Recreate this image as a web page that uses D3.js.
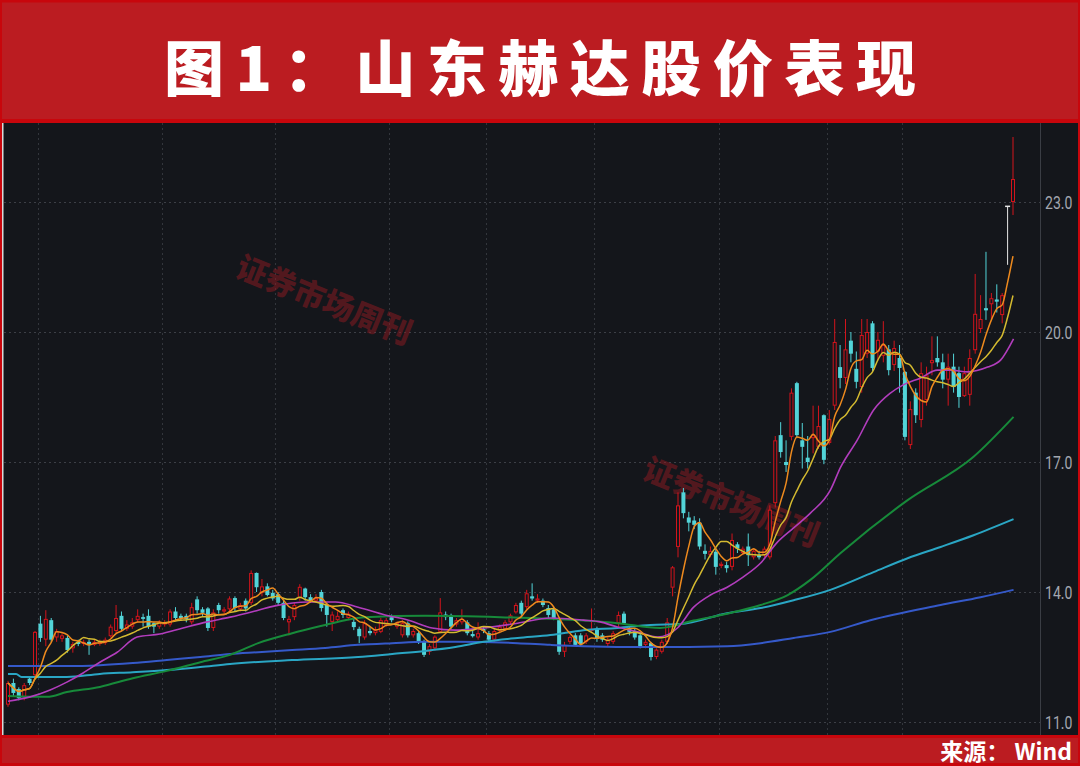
<!DOCTYPE html>
<html><head><meta charset="utf-8">
<script src="https://cdn.jsdelivr.net/npm/d3@7"></script>
<style>html,body{margin:0;padding:0;background:#14161b;overflow:hidden}svg{display:block}</style>
</head><body><svg id="c" width="1080" height="766"></svg>
<script>
// ---------------- data ----------------
const titleText = "图1：山东赫达股价表现";
const sourceText = "来源： Wind";
const watermarkText = "证券市场周刊";
const priceTicks = [11, 14, 17, 20, 23];
const monthStarts = [6, 29, 50, 71, 89, 109, 132, 152, 166];

const openP = [11.40,11.90,11.76,11.58,12.00,12.08,13.27,12.90,13.35,12.95,
12.92,12.94,12.70,12.85,12.80,12.85,12.78,12.80,12.82,12.98,
13.10,13.45,13.15,13.20,13.35,13.42,13.45,13.28,13.20,13.25,
13.25,13.55,13.45,13.45,13.30,13.83,13.60,13.62,13.17,13.70,
13.55,13.60,13.86,13.60,13.80,13.75,14.44,13.98,14.13,13.98,
13.95,13.75,13.30,13.42,13.86,14.08,13.88,13.80,14.00,13.70,
13.31,13.35,13.58,13.40,13.31,13.15,12.95,13.10,13.05,13.08,
13.25,13.42,13.20,13.00,13.28,13.00,13.05,12.85,12.62,12.70,
13.08,13.48,13.47,13.25,13.30,13.30,13.03,12.95,13.15,13.05,
12.90,13.10,13.15,13.30,13.53,13.75,13.65,13.90,13.80,13.80,
13.63,13.60,13.35,12.62,12.85,13.00,13.00,12.85,13.10,13.15,
13.00,12.80,12.85,13.28,13.50,13.15,13.10,13.00,12.78,12.82,
12.50,12.62,12.85,14.10,15.04,16.30,15.72,15.65,15.60,14.95,
14.85,14.93,14.60,14.62,14.58,15.10,14.90,15.05,14.80,14.85,
14.85,14.80,16.05,17.62,17.00,17.58,18.82,17.50,17.10,17.55,
17.35,18.08,17.44,18.30,19.19,18.94,19.80,19.15,18.73,19.50,
20.20,19.55,19.45,19.60,19.24,19.40,19.08,17.39,18.60,17.97,
18.43,19.28,19.40,19.30,18.90,19.20,19.05,18.52,18.55,19.58,
20.07,20.55,20.64,20.75,20.39,22.90,23.00];

const highP = [11.95,12.00,11.80,11.90,12.05,13.10,13.45,13.58,13.40,13.15,
13.05,13.00,12.85,12.90,12.90,12.90,12.90,12.90,12.95,13.25,
13.70,13.55,13.35,13.40,13.60,13.50,13.60,13.30,13.35,13.35,
13.60,13.65,13.50,13.50,13.75,13.90,13.65,13.65,13.60,13.75,
13.65,13.90,13.90,13.75,13.85,14.50,14.45,14.30,14.20,14.05,
14.00,13.80,13.45,13.75,14.18,14.10,13.95,13.95,14.05,13.75,
13.55,13.55,13.62,13.55,13.40,13.20,13.35,13.20,13.20,13.40,
13.40,13.48,13.32,13.35,13.32,13.15,13.10,12.90,12.80,13.00,
13.86,13.55,13.50,13.40,13.60,13.35,13.10,13.30,13.20,13.10,
13.15,13.25,13.35,13.50,13.75,13.80,14.05,14.20,13.95,13.85,
13.70,13.65,13.40,12.85,13.00,13.05,13.05,13.05,13.62,13.20,
13.05,12.95,13.10,13.55,13.55,13.20,13.15,13.05,12.90,12.85,
12.70,12.90,13.40,14.60,16.30,16.40,15.85,15.75,15.70,15.10,
15.05,15.00,14.70,14.70,15.35,15.15,15.05,15.35,15.00,14.95,
15.05,16.00,17.60,17.92,17.50,18.70,18.85,17.90,17.60,18.30,
18.30,18.10,18.20,20.30,19.70,20.30,20.00,19.55,20.30,20.30,
20.25,20.00,20.25,19.70,19.80,19.70,19.10,18.40,18.70,19.30,
19.20,19.90,19.90,19.50,19.50,19.50,19.20,19.20,19.60,21.34,
20.85,21.85,20.90,21.10,20.90,22.90,24.50];

const lowP = [11.35,11.60,11.50,11.50,11.85,12.00,12.85,12.75,12.85,12.85,
12.85,12.60,12.60,12.75,12.75,12.55,12.75,12.76,12.78,12.95,
13.05,13.10,13.10,13.15,13.30,13.20,13.15,13.05,13.15,13.20,
13.20,13.35,13.35,13.30,13.25,13.50,13.45,13.10,13.10,13.50,
13.50,13.55,13.55,13.55,13.55,13.70,14.00,13.90,13.90,13.80,
13.70,13.35,13.00,13.35,13.80,13.80,13.75,13.75,13.55,13.20,
13.10,13.30,13.40,13.35,13.12,12.82,12.90,13.00,13.00,13.05,
13.20,13.30,13.15,12.95,12.95,12.95,12.80,12.50,12.55,12.65,
13.05,13.35,13.15,13.20,13.25,13.00,12.95,12.90,13.05,12.85,
12.85,13.05,13.10,13.25,13.50,13.45,13.60,13.80,13.75,13.65,
13.40,13.35,12.55,12.50,12.80,12.75,12.75,12.80,13.05,12.85,
12.85,12.75,12.80,13.20,13.25,13.00,12.90,12.70,12.70,12.42,
12.45,12.58,12.80,13.90,14.80,15.70,15.40,15.45,14.98,14.75,
14.80,14.40,14.55,14.45,14.50,14.90,14.85,14.60,14.75,14.75,
14.80,14.75,15.95,17.10,16.77,17.50,17.55,16.85,16.85,17.20,
17.30,16.95,17.40,18.20,18.70,18.80,19.30,18.70,18.60,19.40,
19.10,19.35,19.30,19.00,19.10,18.60,17.50,17.30,17.90,17.80,
18.30,19.00,19.20,18.70,18.30,18.60,18.25,18.50,18.30,19.50,
19.98,20.28,20.30,20.45,20.20,21.55,22.70];

const closeP = [11.90,11.67,11.55,11.85,11.90,13.08,12.94,13.38,12.90,13.10,
13.00,12.66,12.80,12.80,12.85,12.78,12.85,12.85,12.90,13.20,
13.40,13.15,13.25,13.30,13.45,13.38,13.20,13.20,13.30,13.30,
13.55,13.40,13.40,13.38,13.65,13.58,13.52,13.17,13.53,13.58,
13.60,13.85,13.63,13.70,13.62,14.44,14.11,14.13,13.93,13.85,
13.75,13.40,13.38,13.70,14.12,13.88,13.80,13.86,13.63,13.47,
13.48,13.45,13.47,13.50,13.19,12.98,13.28,13.05,13.12,13.35,
13.35,13.35,13.28,13.28,13.00,13.10,12.85,12.55,12.75,12.97,
13.53,13.42,13.20,13.35,13.38,13.05,12.98,13.05,13.10,12.90,
13.10,13.20,13.30,13.46,13.70,13.50,13.97,13.85,13.85,13.70,
13.47,13.40,12.62,12.78,12.96,12.78,12.80,13.00,13.15,12.92,
12.90,12.90,13.05,13.47,13.28,13.08,12.95,12.75,12.85,12.50,
12.67,12.85,13.30,14.57,16.00,15.82,15.60,15.55,15.05,14.88,
14.95,14.58,14.65,14.55,15.20,15.00,15.00,14.85,14.95,14.80,
15.00,15.90,17.50,17.23,16.93,18.60,17.62,17.35,17.00,17.62,
17.83,17.05,17.99,19.77,18.94,19.60,19.50,18.85,19.93,20.00,
19.17,19.82,19.70,19.12,19.63,19.17,17.58,18.22,18.08,19.05,
19.00,19.35,19.30,18.90,19.20,18.73,18.50,19.05,19.40,20.42,
20.30,20.50,20.78,20.70,20.85,22.90,23.53];

// moving averages (candle index, price)
const ma20Idx = [0,4.1,7.8,10.9,13.9,17,20.2,23.9,28.1,32.4,36.9,41.1,46.3,49.4,55.6,60.6,64.8,69.8,74.1,78.5,82.8,88,94.3,100.4,106.5,109.6,112.8,116.5,120.2,123.9,126.9,130,133.1,136.1,139.3,142.4,145.4,148.5,152.2,154.1,157.2,160.2,163.3,165.7,168.9,172,174.4,177.6,181.3,183.7,186.1];
const ma20Val = [11.48,11.58,11.74,11.92,12.13,12.38,12.61,12.96,13.03,13.17,13.31,13.42,13.58,13.68,13.77,13.77,13.65,13.47,13.35,13.17,13.12,13.17,13.28,13.40,13.35,13.31,13.19,13.08,12.96,13.17,13.65,13.93,14.11,14.35,14.67,15.15,15.48,15.82,16.35,16.88,17.51,18.20,18.59,18.78,18.94,19.12,19.12,19.08,19.19,19.35,19.84];
const ma60Idx = [0,7.2,10.9,17,23.1,29.4,35.6,41.1,46.3,52.6,58.7,62.4,66.1,77.2,91.1,100.4,112.8,120.7,126.9,133.1,139.3,144.3,148.5,154.1,166.5,178.7,186.1];
const ma60Val = [11.60,11.58,11.69,11.81,12.01,12.18,12.38,12.55,12.82,13.05,13.24,13.35,13.42,13.45,13.42,13.38,13.28,13.17,13.34,13.50,13.70,13.93,14.28,14.90,16.12,17.12,18.04];
const ma120Idx = [0,1.5,2.5,10.9,17,23.1,29.4,35.6,41.1,52.6,64.8,71.1,77.2,82.8,88,94.3,100.4,106.5,112.8,118.9,124.4,133.1,139.3,145.4,152.2,160.2,166.5,172.6,178.7,186.1];
const ma120Val = [12.11,12.11,12.04,12.04,12.11,12.15,12.20,12.27,12.34,12.43,12.50,12.57,12.64,12.73,12.85,12.94,13.01,13.12,13.17,13.24,13.26,13.51,13.63,13.81,14.05,14.46,14.78,15.04,15.31,15.68];
const ma250Idx = [0,10.9,17,23.1,29.4,35.6,41.1,46.3,52.6,58.7,64.8,71.1,77.2,82.8,94.3,100.4,106.5,118.9,133.1,139.3,145.4,152.2,159.6,172.6,180,186.1];
const ma250Val = [12.29,12.29,12.31,12.36,12.43,12.50,12.57,12.61,12.66,12.71,12.78,12.82,12.85,12.85,12.82,12.78,12.75,12.73,12.75,12.82,12.94,13.08,13.35,13.70,13.88,14.05];

// ---------------- drawing ----------------
const N = closeP.length;
const svg = d3.select('#c');
const BG = '#14161b', BANNER = '#bb1c21', BORDER = '#c8060c';
const UP = '#d3141c', DOWN = '#52d4d8', FLAT = '#e6e6e6';

const x = d3.scaleLinear().domain([0, N - 1]).range([8, 1013]);
const y = d3.scaleLinear().domain([11, 23]).range([722, 202]);
const step = x(1) - x(0);
const plotTop = 123, plotBottom = 735, axisX = 1040;

// frame
svg.append('rect').attr('x',0).attr('y',0).attr('width',1080).attr('height',766).attr('fill',BG);
svg.append('rect').attr('x',0).attr('y',0).attr('width',1080).attr('height',plotTop).attr('fill',BANNER);
svg.append('rect').attr('x',0).attr('y',0).attr('width',1080).attr('height',2.5).attr('fill',BORDER);
svg.append('rect').attr('x',0).attr('y',119).attr('width',1080).attr('height',4).attr('fill',BORDER);
svg.append('rect').attr('x',0).attr('y',plotBottom).attr('width',1080).attr('height',766-plotBottom).attr('fill',BANNER);
svg.append('rect').attr('x',0).attr('y',plotBottom).attr('width',1080).attr('height',3).attr('fill',BORDER);
svg.append('rect').attr('x',0).attr('y',763).attr('width',1080).attr('height',3).attr('fill',BORDER);
svg.append('rect').attr('x',0).attr('y',0).attr('width',2).attr('height',766).attr('fill',BORDER);
svg.append('rect').attr('x',1078).attr('y',0).attr('width',2).attr('height',766).attr('fill',BORDER);
svg.append('rect').attr('x',2).attr('y',plotTop).attr('width',1.5).attr('height',plotBottom-plotTop).attr('fill','#d9d9d9');

// title & source
svg.append('text').attr('x',540).attr('y',64).attr('text-anchor','middle')
  .attr('dominant-baseline','central')
  .attr('font-family','"Noto Sans CJK SC","Noto Sans CJK JP",sans-serif')
  .attr('font-weight',900).attr('font-size',60).attr('fill','#ffffff')
  .attr('textLength',752).attr('lengthAdjust','spacing')
  .text(titleText);
svg.append('text').attr('x',1072).attr('y',760).attr('text-anchor','end')
  .attr('font-family','"Noto Sans CJK SC",sans-serif')
  .attr('font-weight',700).attr('font-size',23).attr('fill','#ffffff')
  .text(sourceText);

// clip
svg.append('defs').append('clipPath').attr('id','plot')
  .append('rect').attr('x',3.5).attr('y',plotTop).attr('width',axisX-3.5).attr('height',plotBottom-plotTop);

// grid
const grid = svg.append('g');
grid.selectAll('line.h').data(priceTicks).enter().append('line')
  .attr('x1',4).attr('x2',axisX+3).attr('y1',d=>Math.round(y(d))+0.5).attr('y2',d=>Math.round(y(d))+0.5)
  .attr('stroke','#3c3f46').attr('stroke-width',1).attr('stroke-dasharray','2,3');
grid.selectAll('line.v').data(monthStarts).enter().append('line')
  .attr('x1',d=>Math.round(x(d)-step/2)+0.5).attr('x2',d=>Math.round(x(d)-step/2)+0.5)
  .attr('y1',plotTop).attr('y2',plotBottom)
  .attr('stroke','#33363c').attr('stroke-width',1).attr('stroke-dasharray','2,3');
svg.append('line').attr('x1',axisX+0.5).attr('x2',axisX+0.5).attr('y1',plotTop).attr('y2',plotBottom)
  .attr('stroke','#3a3d44').attr('stroke-width',1);

// axis labels (condensed look via horizontal scale)
const axis = d3.axisRight(y).tickValues(priceTicks).tickFormat(d3.format('.1f')).tickSize(0).tickPadding(0);
const ag = svg.append('g').attr('transform',`translate(${axisX+5},0)`).call(axis);
ag.select('.domain').remove();
ag.selectAll('text').attr('fill','#a3a7af').attr('font-family','Roboto, "Liberation Sans", sans-serif')
  .attr('font-size',19).attr('transform','scale(0.74,1)');

// watermarks
[[325, 298], [732, 500]].forEach(p => {
  svg.append('text').attr('transform',`translate(${p[0]},${p[1]}) rotate(22)`)
    .attr('text-anchor','middle').attr('dominant-baseline','central')
    .attr('font-family','"Noto Sans CJK SC",serif').attr('font-weight',900)
    .attr('font-size',31).attr('fill','#8a1a22').attr('fill-opacity',0.55)
    .text(watermarkText);
});

// candles
const plot = svg.append('g').attr('clip-path','url(#plot)');
const data = d3.range(N).map(i => ({i, o: openP[i], h: highP[i], l: lowP[i], c: closeP[i]}));
const col = d => d.c > d.o ? UP : (d.c < d.o ? DOWN : FLAT);
const cg = plot.append('g');
cg.selectAll('line.w').data(data).enter().append('line')
  .attr('x1',d=>x(d.i)).attr('x2',d=>x(d.i)).attr('y1',d=>y(d.h)).attr('y2',d=>y(d.l))
  .attr('stroke',col).attr('stroke-width',1);
data.forEach(d => {
  const cx = x(d.i);
  if (d.c > d.o) {
    cg.append('rect').attr('x',cx-1.5).attr('width',3)
      .attr('y',y(d.c)+0.5).attr('height',Math.max(0.5, y(d.o)-y(d.c)-1))
      .attr('fill',BG).attr('stroke',UP).attr('stroke-width',1);
  } else if (d.c < d.o) {
    cg.append('rect').attr('x',cx-2).attr('width',4)
      .attr('y',y(d.o)).attr('height',Math.max(1.2, y(d.c)-y(d.o)))
      .attr('fill',DOWN);
  } else {
    cg.append('rect').attr('x',cx-2.5).attr('width',5)
      .attr('y',y(d.o)-0.75).attr('height',1.5).attr('fill',FLAT);
  }
});

// moving averages
const ma = n => d3.range(N).map(i => [i, d3.mean(closeP.slice(Math.max(0, i - n + 1), i + 1))]);
const zip = (a, b) => a.map((v, k) => [v, b[k]]);
const line = d3.line().x(d => x(d[0])).y(d => y(d[1])).curve(d3.curveMonotoneX);
const series = [
  {pts: zip(ma250Idx, ma250Val), c: '#3559c9', w: 2},
  {pts: zip(ma120Idx, ma120Val), c: '#2aa6c4', w: 2},
  {pts: zip(ma60Idx, ma60Val),   c: '#178a3a', w: 2},
  {pts: zip(ma20Idx, ma20Val),   c: '#b23dbd', w: 1.6},
  {pts: ma(10),                  c: '#d4ba30', w: 1.5},
  {pts: ma(5),                   c: '#ee8a1e', w: 1.5}
];
plot.selectAll('path.ma').data(series).enter().append('path')
  .attr('d', s => line(s.pts)).attr('fill','none')
  .attr('stroke', s => s.c).attr('stroke-width', s => s.w);
</script></body></html>
